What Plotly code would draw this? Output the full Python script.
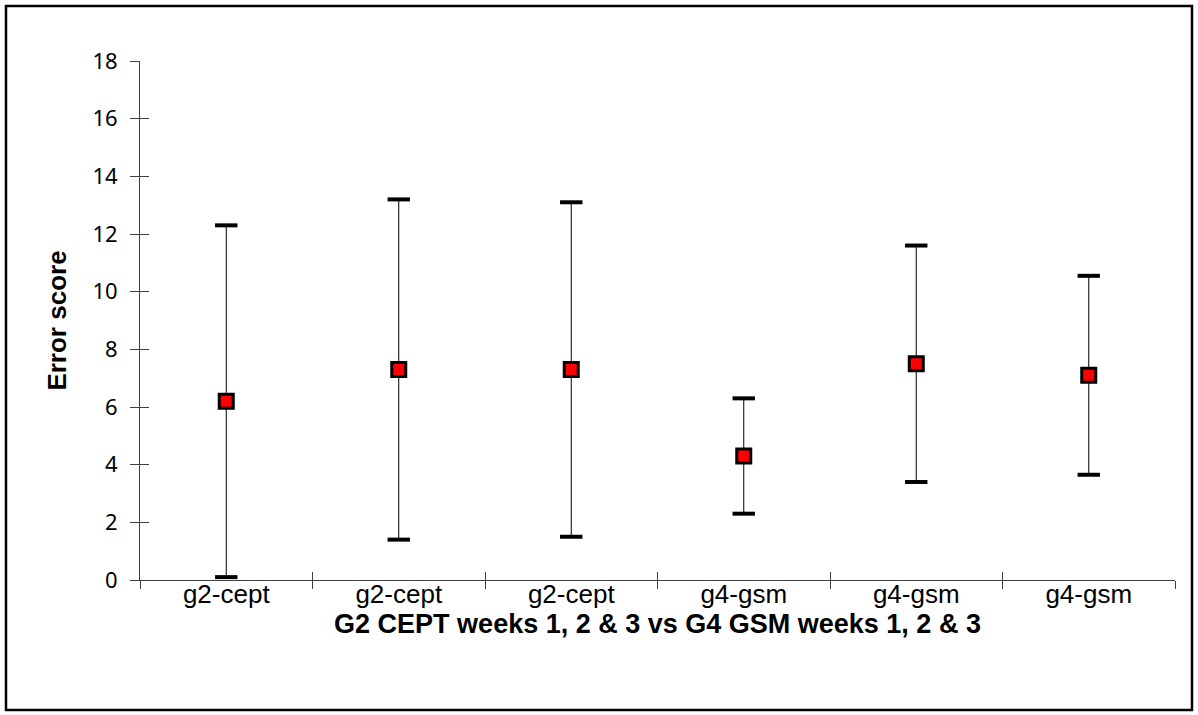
import plotly.graph_objects as go

categories = ["g2-cept", "g2-cept", "g2-cept", "g4-gsm", "g4-gsm", "g4-gsm"]
mean_vals = [6.2, 7.3, 7.3, 4.3, 7.5, 7.1]
high_vals = [12.3, 13.2, 13.1, 6.3, 11.6, 10.55]
low_vals = [0.1, 1.4, 1.5, 2.3, 3.4, 3.65]
y_ticks = [0, 2, 4, 6, 8, 10, 12, 14, 16, 18]

xpos = list(range(1, len(categories) + 1))
err_plus = [h - m for h, m in zip(high_vals, mean_vals)]
err_minus = [m - l for m, l in zip(mean_vals, low_vals)]
bounds = [i + 0.5 for i in range(0, len(categories) + 1)]

fig = go.Figure()

# vertical range lines
fig.add_trace(go.Scatter(
    x=xpos, y=mean_vals, mode="markers",
    marker=dict(size=1, color="rgba(0,0,0,0)"),
    error_y=dict(type="data", symmetric=False, array=err_plus, arrayminus=err_minus,
                 color="black", thickness=1, width=0),
    showlegend=False, hoverinfo="skip"))

# caps
fig.add_trace(go.Scatter(
    x=xpos + xpos, y=high_vals + low_vals, mode="markers",
    marker=dict(symbol="line-ew", size=16, line=dict(color="black", width=4)),
    showlegend=False, hoverinfo="skip", xaxis="x2", yaxis="y2"))

# mean markers
fig.add_trace(go.Scatter(
    x=xpos, y=mean_vals, mode="markers",
    marker=dict(symbol="square", size=14, color="#ff0000",
                line=dict(color="black", width=3)),
    showlegend=False))

axis_col = "#404040"
xr = [0.5, len(categories) + 0.5]
fig.update_layout(
    width=1198, height=715,
    paper_bgcolor="white", plot_bgcolor="white",
    margin=dict(l=140, r=23, t=61, b=135),
    font=dict(family="Liberation Sans, Arial, sans-serif", color="black", size=26),
    xaxis=dict(
        range=xr, tickmode="array", tickvals=xpos, ticktext=categories,
        ticks="", showgrid=False, zeroline=False,
        showline=True, linecolor=axis_col, linewidth=1,
        minor=dict(tickmode="array", tickvals=bounds, ticks="outside",
                   ticklen=8, tickcolor=axis_col, tickwidth=1),
        tickfont=dict(size=26),
        ticklabelstandoff=-9,
        title=dict(text="<b>G2 CEPT weeks 1, 2 &amp; 3 vs G4 GSM weeks 1, 2 &amp; 3</b>",
                   font=dict(size=27), standoff=4),
    ),
    xaxis2=dict(
        range=xr, overlaying="x", anchor="y2", tickmode="array", tickvals=bounds,
        ticks="inside", ticklen=8, tickcolor=axis_col, tickwidth=1,
        showticklabels=False, showgrid=False, zeroline=False, showline=False),
    yaxis=dict(
        range=[0, 18], tickmode="array", tickvals=y_ticks,
        ticks="outside", ticklen=9, tickcolor=axis_col, tickwidth=1,
        showgrid=False, zeroline=False, showline=True, linecolor=axis_col, linewidth=1,
        tickfont=dict(size=22, family="Noto Sans, sans-serif"),
        ticklabelstandoff=8,
        title=dict(text="<b>Error score</b>", font=dict(size=26), standoff=18),
    ),
    yaxis2=dict(
        range=[0, 18], overlaying="y", anchor="x2", side="left", tickmode="array",
        tickvals=y_ticks, ticks="inside", ticklen=9, tickcolor=axis_col, tickwidth=1,
        showticklabels=False, showgrid=False, zeroline=False, showline=False),
    shapes=[dict(type="rect", xref="paper", yref="paper",
                 x0=-134 / 1035, x1=1.0 + 17 / 1035, y0=-130 / 519, y1=1.0 + 55 / 519,
                 line=dict(color="black", width=2.5), fillcolor="rgba(0,0,0,0)", layer="below")],
)

fig.write_html("out.html")
